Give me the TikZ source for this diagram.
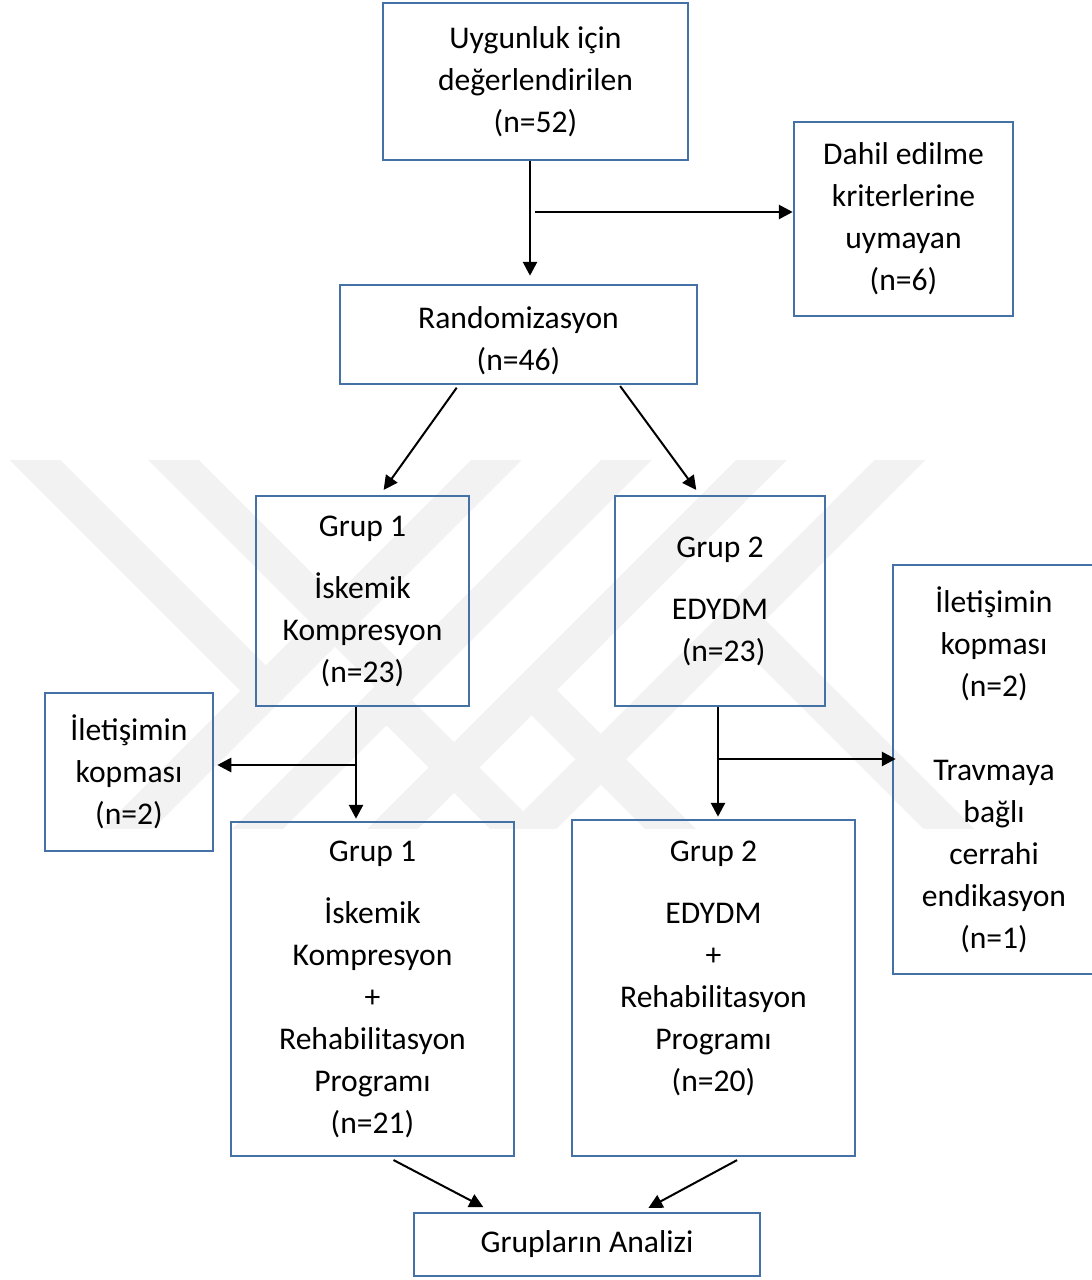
\documentclass[tikz,border=0pt]{standalone}
\usepackage{fontspec}
\setmainfont{Carlito}
\usetikzlibrary{arrows.meta,calc}
\definecolor{kenar}{RGB}{68,114,166}
\definecolor{filigran}{RGB}{242,242,242}
\begin{document}
\begin{tikzpicture}[x=0.5pt,y=-0.5pt,
  kutu/.style={draw=kenar,line width=1.25pt,align=center,inner sep=0pt,
    font=\fontsize{15.8}{21}\selectfont},
  ok/.style={draw,line width=1.4pt,-{Triangle[length=7pt,width=7pt]}},
  okince/.style={draw,line width=1pt,-{Triangle[length=7pt,width=7pt]}},
  serit/.style={draw=filigran,line width=18pt}]
\useasboundingbox (0,0) rectangle (1092,1280);
\begin{scope}
\clip (0,460) rectangle (1092,828);
\path[serit] (516.5,440) -- (108.5,848);
\path[serit] (646.5,440) -- (238.5,848);
\path[serit] (781.5,440) -- (373.5,848);
\path[serit] (920,440) -- (512,848);
\path[serit] (15,440) -- (266,691);
\path[serit] (153.5,440) -- (400,686.5);
\path[serit] (386.5,700) -- (534.5,848);
\path[serit] (531.5,690) -- (689.5,848);
\path[serit] (740,620) -- (968,848);
\end{scope}
\node[kutu, minimum width=152.5pt, minimum height=78.5pt] (ugn) at (535.5,81.5)
  {Uygunluk için\\ değerlendirilen\\ (n=52)};
\node[kutu, minimum width=109.5pt, minimum height=97pt] (dhl) at (903.5,219)
  {Dahil edilme\\ kriterlerine\\ uymayan\\ (n=6)};
\node[kutu, minimum width=178.5pt, minimum height=49.5pt] (rnd) at (518.5,334.5)
  {\rule{0pt}{17pt}Randomizasyon\\ (n=46)};
\node[kutu, minimum width=106.5pt, minimum height=105pt] (g1a) at (362.5,601)
  {Grup 1\\[10pt] İskemik\\ Kompresyon\\ (n=23)};
\node[kutu, minimum width=105pt, minimum height=105pt] (g2a) at (720,601)
  {Grup 2\\[10pt] EDYDM\\ \ (n=23)};
\node[kutu, minimum width=101pt, minimum height=204.5pt] (ilr) at (994,769.5)
  {İletişimin\\ kopması\\ (n=2)\\[21pt] Travmaya\\ bağlı\\ cerrahi\\ endikasyon\\ (n=1)};
\node[kutu, minimum width=84pt, minimum height=79pt] (ill) at (129,772)
  {İletişimin\\ kopması\\ (n=2)};
\node[kutu, minimum width=141.5pt, minimum height=167pt] (g1b) at (372.5,989)
  {Grup 1\\[10pt] İskemik\\ Kompresyon\\ +\\ Rehabilitasyon\\ Programı\\ (n=21)};
\node[kutu, minimum width=141.5pt, minimum height=168pt] (g2b) at (713.5,988)
  {Grup 2\\[10pt] EDYDM\\ +\\ Rehabilitasyon\\ Programı\\ (n=20)\\[1pt]\mbox{}};
\node[kutu, minimum width=173pt, minimum height=31.5pt] (anl) at (587,1244.5)
  {Grupların Analizi};
\coordinate (j1) at (530,212);
\coordinate (j2) at (356,765);
\coordinate (j3) at (718,759);
\path[ok, shorten >=4pt] (ugn.south -| j1) -- (rnd.north -| j1);
\path[ok, shorten <=2.5pt] (j1) -- (dhl.west |- j1);
\path[okince, shorten <=1.5pt, shorten >=3pt] ($(rnd.south west)!0.333!(rnd.south east)$) -- ($(g1a.north west)!0.582!(g1a.north east)$);
\path[okince, shorten <=0.5pt, shorten >=3pt] ($(rnd.south west)!0.781!(rnd.south east)$) -- ($(g2a.north west)!0.405!(g2a.north east)$);
\path[ok, shorten >=1pt] (g1a.south -| j2) -- (g1b.north -| j2);
\path[ok, shorten >=1.5pt] (j2) -- (ill.east |- j2);
\path[ok, shorten >=1pt] (g2a.south -| j3) -- (g2b.north -| j3);
\path[ok, shorten >=-2pt] (j3) -- (ilr.west |- j3);
\path[okince, shorten <=3pt, shorten >=5pt] ($(g1b.south west)!0.555!(g1b.south east)$) -- ($(anl.north west)!0.228!(anl.north east)$);
\path[okince, shorten <=3pt, shorten >=4pt] ($(g2b.south west)!0.601!(g2b.south east)$) -- ($(anl.north west)!0.656!(anl.north east)$);
\end{tikzpicture}
\end{document}
